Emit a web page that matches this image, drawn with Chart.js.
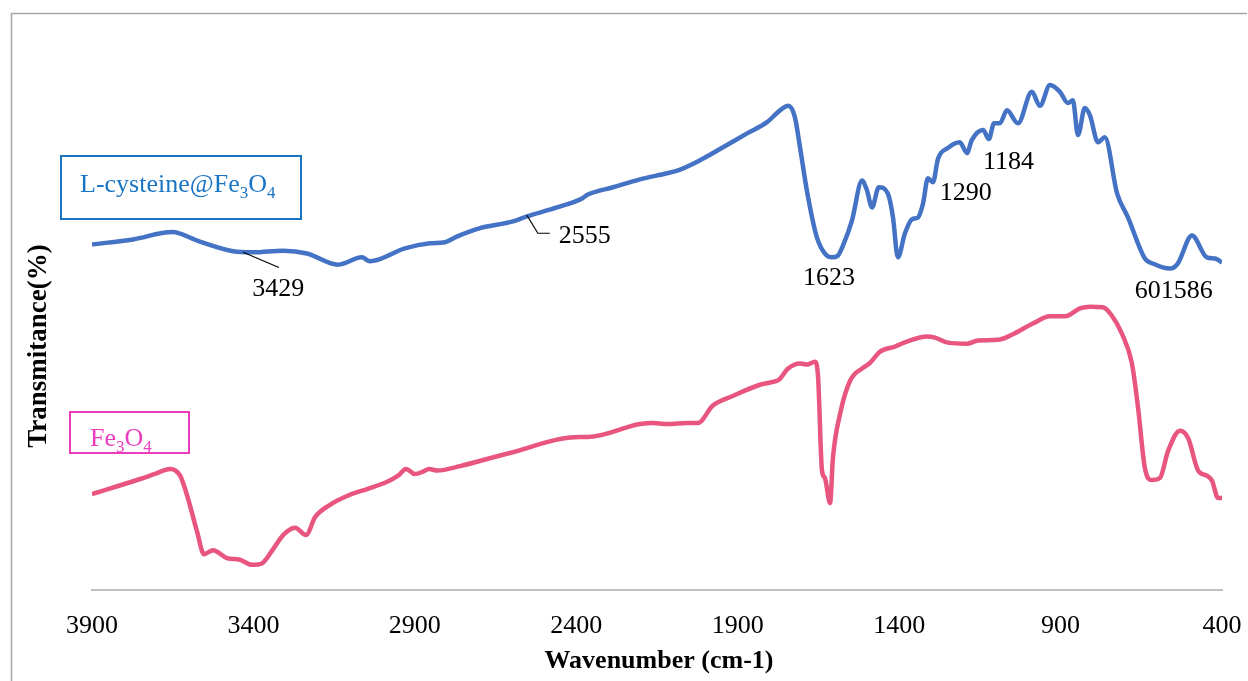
<!DOCTYPE html>
<html>
<head>
<meta charset="utf-8">
<script src="https://cdn.jsdelivr.net/npm/chart.js@4.4.1/dist/chart.umd.min.js"></script>
<style>
  html, body { margin: 0; padding: 0; background: #fff; }
  #wrap { width: 1248px; height: 681px; position: relative; }
</style>
</head>
<body>
<div id="wrap"><canvas id="ftir"></canvas></div>
<script>
// FTIR spectra (transmittance in arbitrary %)
const wnCys = [3900, 3773, 3652, 3566, 3463, 3401, 3308, 3234, 3138, 3064, 3039, 2931, 2853, 2807, 2770, 2698, 2596, 2553, 2460, 2382, 2364, 2286, 2203, 2119, 2085, 2017, 1955, 1871, 1809, 1769, 1744, 1723, 1707, 1686, 1655, 1624, 1608, 1590, 1574, 1546, 1515, 1500, 1484, 1463, 1435, 1419, 1404, 1382, 1360, 1342, 1326, 1311, 1295, 1280, 1249, 1212, 1190, 1175, 1140, 1122, 1106, 1088, 1066, 1032, 989, 964, 933, 902, 877, 862, 846, 825, 809, 784, 763, 725, 691, 639, 614, 561, 537, 493, 447, 422, 400];
const tCys = [61.6, 62.5, 63.8, 62.1, 60.4, 60.2, 60.5, 60.0, 58.0, 59.3, 58.6, 60.9, 61.8, 62.0, 63.0, 64.5, 65.7, 66.6, 68.2, 69.8, 70.5, 71.8, 73.2, 74.3, 74.8, 76.6, 78.6, 81.4, 83.4, 85.5, 86.3, 84.3, 78.9, 71.3, 62.9, 59.6, 59.3, 59.6, 61.4, 65.9, 73.0, 71.3, 68.2, 71.8, 70.7, 66.4, 59.3, 63.6, 66.1, 66.4, 68.9, 73.4, 72.7, 76.8, 78.8, 79.8, 77.9, 80.2, 82.0, 80.4, 83.2, 83.2, 85.5, 83.2, 88.8, 86.3, 90.0, 88.8, 86.8, 87.3, 81.1, 85.9, 84.6, 79.8, 80.7, 70.7, 66.4, 59.1, 58.2, 57.3, 58.2, 63.2, 59.3, 59.1, 58.4];

const wnFe = [3900, 3751, 3705, 3658, 3627, 3603, 3575, 3553, 3525, 3482, 3442, 3404, 3373, 3339, 3308, 3271, 3237, 3209, 3163, 3101, 3048, 2986, 2952, 2927, 2900, 2875, 2856, 2831, 2760, 2615, 2389, 2364, 2203, 2162, 2119, 2057, 2023, 1977, 1915, 1831, 1791, 1772, 1744, 1707, 1686, 1661, 1651, 1639, 1630, 1614, 1605, 1583, 1552, 1512, 1490, 1459, 1413, 1376, 1314, 1289, 1249, 1190, 1156, 1094, 1051, 986, 933, 886, 840, 809, 769, 741, 710, 679, 660, 639, 617, 592, 567, 530, 505, 474, 447, 431, 412, 400];
const tFe = [17.1, 19.8, 20.7, 21.6, 20.4, 16.4, 10.5, 6.4, 7.1, 5.7, 5.4, 4.5, 4.8, 7.3, 9.8, 11.1, 9.8, 13.0, 15.2, 17.0, 18.0, 19.3, 20.4, 21.6, 20.7, 21.1, 21.6, 21.3, 22.1, 24.3, 27.3, 27.3, 29.6, 29.8, 29.6, 29.8, 29.8, 32.9, 34.6, 36.6, 37.1, 37.5, 39.5, 40.4, 40.2, 40.7, 37.9, 21.3, 20.0, 15.5, 23.6, 31.4, 37.3, 39.6, 40.5, 42.5, 43.4, 44.3, 45.2, 45.0, 44.1, 43.9, 44.5, 44.6, 45.5, 47.5, 48.8, 48.8, 50.2, 50.5, 50.4, 48.9, 45.7, 40.4, 32.5, 21.8, 19.6, 20.0, 24.8, 28.4, 27.1, 21.3, 20.4, 19.5, 16.4, 16.4];

const xTicks = [3900, 3400, 2900, 2400, 1900, 1400, 900, 400];
const peakLabels = ['3429', '2555', '1623', '1290', '1184', '601586'];

const SERIF = "'Liberation Serif', 'Times New Roman', serif";

function toPoints(xs, ys) {
    return xs.map((x, i) => ({ x: x, y: ys[i] }));
}

// Text, boxes and frame drawn on top of the chart
const decorPlugin = {
    id: 'decor',
    afterDraw(chart) {
        const c = chart.ctx;
        const xs = chart.scales.x;
        const ys = chart.scales.y;
        const area = chart.chartArea;
        const px = v => xs.getPixelForValue(v);
        const py = v => ys.getPixelForValue(v);
        c.save();

        // outer frame (top and left edges only show)
        c.strokeStyle = '#a6a6a6';
        c.lineWidth = 1.5;
        c.beginPath();
        c.moveTo(11.5, 690);
        c.lineTo(11.5, 13.5);
        c.lineTo(1247, 13.5);
        c.stroke();

        // axis titles
        c.fillStyle = '#000';
        c.font = 'bold 26px ' + SERIF;
        c.textAlign = 'center';
        c.textBaseline = 'alphabetic';
        c.fillText('Wavenumber (cm-1)', (area.left + area.right) / 2 + 2, 668);

        c.save();
        c.translate(39, 346);
        c.rotate(-Math.PI / 2);
        c.font = 'bold 27px ' + SERIF;
        c.textBaseline = 'middle';
        c.fillText('Transmitance(%)', 0, 0);
        c.restore();

        // series name boxes
        function formula(parts, x, y, color) {
            c.fillStyle = color;
            c.textAlign = 'left';
            c.textBaseline = 'alphabetic';
            parts.forEach(p => {
                c.font = (p.sub ? '17px ' : '26px ') + SERIF;
                c.fillText(p.t, x, y + (p.sub ? 6 : 0));
                x += c.measureText(p.t).width;
            });
        }
        c.lineWidth = 2;
        c.strokeStyle = '#1a74c4';
        c.strokeRect(61, 156, 240, 63);
        formula([{ t: 'L-cysteine@Fe' }, { t: '3', sub: true }, { t: 'O' }, { t: '4', sub: true }], 80, 192, '#1a74c4');

        c.strokeStyle = '#ec3cbe';
        c.strokeRect(70, 412, 119, 41);
        formula([{ t: 'Fe' }, { t: '3', sub: true }, { t: 'O' }, { t: '4', sub: true }], 90, 446, '#ec3cbe');

        // peak labels
        const spots = [[3404, 52.5], [2454, 61.8], [1698, 54.3], [1274, 69.5], [1140, 75.0], [670, 52.1]];
        c.fillStyle = '#000';
        c.font = '26px ' + SERIF;
        peakLabels.forEach((t, i) => c.fillText(t, px(spots[i][0]), py(spots[i][1])));

        // leader lines
        c.strokeStyle = '#000';
        c.lineWidth = 1.2;
        c.beginPath();
        c.moveTo(px(3432), py(60.2));
        c.lineTo(px(3321), py(57.5));
        c.moveTo(px(2553), py(66.8));
        c.lineTo(px(2519), py(63.6));
        c.lineTo(px(2482), py(63.6));
        c.stroke();

        c.restore();
    }
};

const ctx = document.getElementById('ftir').getContext('2d');
const ftirChart = new Chart(ctx, {
    type: 'line',
    data: {
        datasets: [
            {
                label: 'L-cysteine@Fe3O4',
                data: toPoints(wnCys, tCys),
                borderColor: '#4472c4',
                borderWidth: 4.5,
                pointRadius: 0,
                cubicInterpolationMode: 'monotone',
                fill: false
            },
            {
                label: 'Fe3O4',
                data: toPoints(wnFe, tFe),
                borderColor: '#e8557e',
                borderWidth: 4.5,
                pointRadius: 0,
                cubicInterpolationMode: 'monotone',
                fill: false
            }
        ]
    },
    options: {
        responsive: true,
        maintainAspectRatio: false,
        animation: false,
        layout: {
            padding: { left: 92, right: 26, top: 29, bottom: 19 }
        },
        plugins: {
            legend: { display: false },
            tooltip: { enabled: false }
        },
        scales: {
            x: {
                type: 'linear',
                reverse: true,
                min: 400,
                max: 3900,
                afterBuildTicks: s => { s.ticks = xTicks.map(v => ({ value: v })); },
                // keep the plot edges on the padding, not on label overhang
                afterFit: s => { s.paddingLeft = 0; s.paddingRight = 0; },
                grid: { display: false, drawTicks: false },
                border: { display: true, color: '#bfbfbf', width: 2 },
                ticks: {
                    padding: 21,
                    color: '#000',
                    font: { family: SERIF, size: 26, lineHeight: 1.15 },
                    maxRotation: 0,
                    autoSkip: false,
                    callback: v => String(v)
                },
                title: { display: false }
            },
            y: {
                display: false,
                min: 0,
                max: 100
            }
        }
    },
    plugins: [decorPlugin]
});
</script>
</body>
</html>
